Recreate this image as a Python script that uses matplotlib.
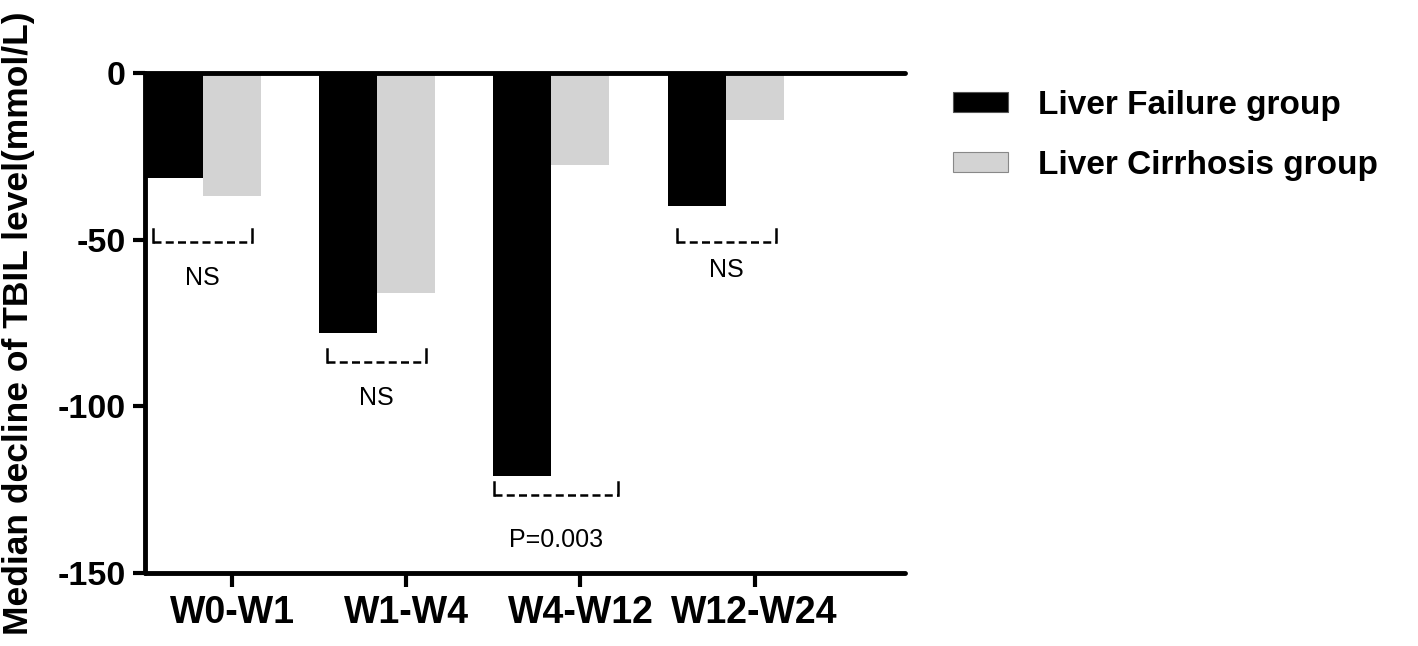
import numpy as np
import matplotlib
matplotlib.use("Agg")
import matplotlib.pyplot as plt
from matplotlib.patches import Patch

plt.rcParams['font.family'] = ['Liberation Sans', 'DejaVu Sans']

periods = ['W0-W1', 'W1-W4', 'W4-W12', 'W12-W24']
liver_failure = [-31.5, -78, -121, -40]
liver_cirrhosis = [-37, -66, -27.5, -14]
sig_labels = ['NS', 'NS', 'P=0.003', 'NS']

# bracket placement per group: (left, right) offsets, bracket y, text y
bracket_x = [(-0.29, 0.28), (-0.29, 0.28), (-0.33, 0.38), (-0.28, 0.29)]
bracket_y = [-50.7, -86.7, -126.6, -50.7]
text_y = [-61.5, -97.5, -140, -59]

fig = plt.figure(figsize=(14.18, 6.46), dpi=100)
ax = fig.add_axes([145 / 1418, 73 / 646, 760 / 1418, 500 / 646])

x = np.arange(len(periods))
w = 1 / 3
ax.bar(x - w / 2, liver_failure, w, color='black', linewidth=0)
ax.bar(x + w / 2, liver_cirrhosis, w, color='#d3d3d3', linewidth=0)

ax.set_xlim(-w, 4.03)
ax.set_ylim(-150, 0)

for s in ['left', 'bottom', 'top']:
    ax.spines[s].set_linewidth(3.5)
    ax.spines[s].set_capstyle('round')
ax.spines['right'].set_visible(False)

ax.set_yticks([0, -50, -100, -150])
ax.set_yticklabels(['0', '-50', '-100', '-150'], fontsize=24.5, fontweight='bold')
ax.set_xticks(x + w / 2)
ax.set_xticklabels(periods, fontsize=27, fontweight='bold')
ax.tick_params(axis='y', length=9, width=3, pad=5)
ax.tick_params(axis='x', length=10, width=3, pad=6)

for i, lab in enumerate(sig_labels):
    x0 = x[i] + bracket_x[i][0]
    x1 = x[i] + bracket_x[i][1]
    yb = bracket_y[i]
    ax.plot([x0, x1], [yb, yb], color='black', lw=1.8, dashes=(3.2, 1.7))
    ax.plot([x0, x0], [yb, yb + 4], color='black', lw=1.8)
    ax.plot([x1, x1], [yb, yb + 4], color='black', lw=1.8)
    ax.text((x0 + x1) / 2, text_y[i], lab, ha='center', va='center', fontsize=18)

fig.text(19 / 1418, 0.5, 'Median decline of TBIL level(mmol/L)', rotation=90,
         ha='center', va='center', fontsize=25.5, fontweight='bold')

handles = [Patch(facecolor='black', edgecolor='#555555', linewidth=0.8),
           Patch(facecolor='#d3d3d3', edgecolor='#888888', linewidth=0.8)]
fig.legend(handles, ['Liver Failure group', 'Liver Cirrhosis group'],
           loc='upper left', bbox_to_anchor=(953 / 1418, 1 - 90 / 646),
           frameon=False, borderpad=0, borderaxespad=0,
           handlelength=1.65, handleheight=0.57, handletextpad=0.9,
           labelspacing=0.87, prop={'size': 24, 'weight': 'bold'})

fig.savefig('out.png', dpi=100)
